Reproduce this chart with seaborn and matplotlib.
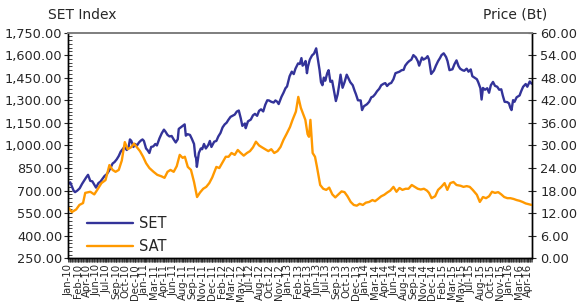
import numpy as np
import pandas as pd
import matplotlib
matplotlib.use("Agg")
import matplotlib.pyplot as plt
import seaborn as sns
from matplotlib.ticker import MultipleLocator, FuncFormatter

# SET index (left axis)
set_dates = [
    "2010-01-04", "2010-01-12", "2010-01-20", "2010-01-29", "2010-02-05", "2010-02-15", "2010-02-26",
    "2010-03-10", "2010-03-22", "2010-03-31", "2010-04-09", "2010-04-20", "2010-04-30", "2010-05-10",
    "2010-05-19", "2010-05-31", "2010-06-10", "2010-06-21", "2010-06-30", "2010-07-12", "2010-07-22",
    "2010-07-30", "2010-08-10", "2010-08-20", "2010-08-31", "2010-09-10", "2010-09-20", "2010-09-30",
    "2010-10-08", "2010-10-20", "2010-10-29", "2010-11-05", "2010-11-12", "2010-11-22", "2010-11-30",
    "2010-12-10", "2010-12-20", "2010-12-30",
    "2011-01-07", "2011-01-14", "2011-01-25", "2011-02-01", "2011-02-10", "2011-02-18", "2011-02-28",
    "2011-03-10", "2011-03-18", "2011-03-31", "2011-04-11", "2011-04-22", "2011-04-29", "2011-05-10",
    "2011-05-20", "2011-05-31", "2011-06-10", "2011-06-20", "2011-06-30", "2011-07-05", "2011-07-15",
    "2011-07-25", "2011-08-04", "2011-08-10", "2011-08-19", "2011-08-31", "2011-09-09", "2011-09-20",
    "2011-09-26", "2011-09-30", "2011-10-04", "2011-10-14", "2011-10-24", "2011-10-31", "2011-11-09",
    "2011-11-18", "2011-11-30", "2011-12-08", "2011-12-16", "2011-12-30",
    "2012-01-10", "2012-01-20", "2012-01-31", "2012-02-10", "2012-02-20", "2012-02-29", "2012-03-09",
    "2012-03-20", "2012-03-30", "2012-04-10", "2012-04-20", "2012-04-30", "2012-05-10", "2012-05-18",
    "2012-05-31", "2012-06-04", "2012-06-15", "2012-06-29", "2012-07-10", "2012-07-20", "2012-07-31",
    "2012-08-10", "2012-08-20", "2012-08-31", "2012-09-10", "2012-09-20", "2012-09-28", "2012-10-10",
    "2012-10-22", "2012-10-31", "2012-11-09", "2012-11-16", "2012-11-30", "2012-12-10", "2012-12-20",
    "2012-12-28",
    "2013-01-10", "2013-01-21", "2013-01-31", "2013-02-08", "2013-02-20", "2013-02-28", "2013-03-08",
    "2013-03-14", "2013-03-22", "2013-03-29", "2013-04-05", "2013-04-10", "2013-04-19", "2013-04-30",
    "2013-05-10", "2013-05-21", "2013-05-31", "2013-06-07", "2013-06-14", "2013-06-21", "2013-06-28",
    "2013-07-05", "2013-07-15", "2013-07-22", "2013-07-31", "2013-08-09", "2013-08-20", "2013-08-28",
    "2013-09-06", "2013-09-13", "2013-09-20", "2013-09-30", "2013-10-10", "2013-10-21", "2013-10-31",
    "2013-11-08", "2013-11-20", "2013-11-29", "2013-12-06", "2013-12-16", "2013-12-30",
    "2014-01-06", "2014-01-15", "2014-01-31", "2014-02-10", "2014-02-20", "2014-02-28", "2014-03-10",
    "2014-03-20", "2014-03-31", "2014-04-10", "2014-04-22", "2014-04-30", "2014-05-09", "2014-05-20",
    "2014-05-30", "2014-06-10", "2014-06-20", "2014-06-30", "2014-07-10", "2014-07-21", "2014-07-31",
    "2014-08-08", "2014-08-20", "2014-08-29", "2014-09-08", "2014-09-18", "2014-09-30", "2014-10-10",
    "2014-10-17", "2014-10-31", "2014-11-07", "2014-11-20", "2014-11-28", "2014-12-05", "2014-12-16",
    "2014-12-30",
    "2015-01-09", "2015-01-20", "2015-01-30", "2015-02-06", "2015-02-16", "2015-02-27", "2015-03-06",
    "2015-03-16", "2015-03-31", "2015-04-10", "2015-04-20", "2015-04-30", "2015-05-08", "2015-05-20",
    "2015-05-29", "2015-06-10", "2015-06-19", "2015-06-30", "2015-07-08", "2015-07-20", "2015-07-31",
    "2015-08-07", "2015-08-18", "2015-08-24", "2015-08-31", "2015-09-10", "2015-09-21", "2015-09-30",
    "2015-10-09", "2015-10-20", "2015-10-30", "2015-11-10", "2015-11-20", "2015-11-30", "2015-12-08",
    "2015-12-17", "2015-12-30",
    "2016-01-08", "2016-01-15", "2016-01-21", "2016-01-29", "2016-02-05", "2016-02-15", "2016-02-29",
    "2016-03-08", "2016-03-18", "2016-03-31", "2016-04-08", "2016-04-20", "2016-04-29",
]
set_values = [
    745, 755, 730, 700, 690, 700, 715,
    745, 770, 788, 805, 765, 762, 740,
    720, 750, 760, 780, 797, 810, 830,
    850, 880, 890, 908, 930, 960, 977,
    990, 970, 986, 1040, 1030, 990, 1010,
    1000, 1020, 1033,
    1040, 1030, 980, 970, 950, 990, 994,
    1010, 1000, 1047, 1080, 1105, 1093, 1070,
    1060, 1063, 1040, 1020, 1041, 1110, 1120,
    1130, 1140, 1065, 1075, 1070, 1045, 1010,
    930, 916, 858, 950, 980, 975, 1010,
    980, 1003, 1030, 990, 1025,
    1030, 1060, 1083, 1120, 1140, 1151, 1170,
    1190, 1197, 1205, 1225, 1232, 1180, 1130,
    1146, 1115, 1160, 1172, 1200, 1210, 1197,
    1230, 1240, 1226, 1270, 1300, 1299, 1290,
    1285, 1299, 1290, 1275, 1324, 1350, 1380,
    1392,
    1460, 1490, 1474, 1510, 1545, 1541, 1580,
    1530, 1540, 1561, 1480, 1525, 1570, 1598,
    1610, 1645, 1562, 1500, 1420, 1400, 1451,
    1430, 1480, 1500, 1423, 1430, 1350, 1295,
    1340, 1400, 1470, 1383, 1420, 1470, 1443,
    1420, 1400, 1364, 1340, 1300, 1299,
    1235, 1260, 1274, 1290, 1320, 1325, 1340,
    1360, 1376, 1400, 1410, 1414, 1395, 1410,
    1415, 1440, 1480, 1485, 1490, 1500, 1502,
    1530, 1550, 1561, 1570, 1600, 1585, 1560,
    1530, 1584, 1570, 1580, 1593, 1570, 1475,
    1498,
    1530, 1560, 1581, 1600, 1612, 1587, 1560,
    1500, 1506, 1540, 1565, 1527, 1510, 1500,
    1496, 1510, 1490, 1505, 1460, 1450, 1440,
    1420, 1380, 1305, 1382, 1370, 1380, 1350,
    1400, 1422, 1396, 1390, 1370, 1373, 1330,
    1290, 1288,
    1280, 1250, 1235, 1301, 1290, 1320, 1332,
    1360, 1390, 1408, 1390, 1425, 1410,
]

# SAT share price in baht (right axis)
sat_dates = [
    "2010-01-04", "2010-01-20", "2010-02-10", "2010-02-25", "2010-03-15", "2010-03-26", "2010-04-20",
    "2010-05-10", "2010-05-25", "2010-06-15", "2010-07-05", "2010-07-25", "2010-08-10", "2010-08-25",
    "2010-09-10", "2010-09-25", "2010-10-10", "2010-10-25", "2010-11-10", "2010-11-25", "2010-12-10",
    "2010-12-25",
    "2011-01-10", "2011-01-25", "2011-02-10", "2011-03-01", "2011-03-20", "2011-04-10", "2011-04-25",
    "2011-05-10", "2011-05-25", "2011-06-10", "2011-06-25", "2011-07-10", "2011-07-25", "2011-08-05",
    "2011-08-20", "2011-09-05", "2011-09-20", "2011-10-05", "2011-10-20", "2011-11-05", "2011-11-20",
    "2011-12-05", "2011-12-20",
    "2012-01-10", "2012-01-25", "2012-02-10", "2012-02-25", "2012-03-10", "2012-03-25", "2012-04-10",
    "2012-04-25", "2012-05-10", "2012-05-25", "2012-06-10", "2012-06-25", "2012-07-10", "2012-07-25",
    "2012-08-10", "2012-08-25", "2012-09-10", "2012-09-25", "2012-10-10", "2012-10-25", "2012-11-10",
    "2012-11-25", "2012-12-10", "2012-12-25",
    "2013-01-12", "2013-01-25", "2013-02-10", "2013-02-21", "2013-03-05", "2013-03-15", "2013-03-28",
    "2013-04-08", "2013-04-15", "2013-04-22", "2013-05-03", "2013-05-15", "2013-05-25", "2013-06-10",
    "2013-06-25", "2013-07-10", "2013-07-25", "2013-08-10", "2013-08-25", "2013-09-10", "2013-09-25",
    "2013-10-10", "2013-10-25", "2013-11-10", "2013-11-25", "2013-12-10", "2013-12-25",
    "2014-01-10", "2014-01-25", "2014-02-10", "2014-02-25", "2014-03-10", "2014-03-25", "2014-04-10",
    "2014-04-25", "2014-05-10", "2014-05-25", "2014-06-10", "2014-06-25", "2014-07-10", "2014-07-25",
    "2014-08-10", "2014-08-25", "2014-09-10", "2014-09-25", "2014-10-10", "2014-10-25", "2014-11-10",
    "2014-11-25", "2014-12-05", "2014-12-18",
    "2015-01-05", "2015-01-20", "2015-02-05", "2015-02-20", "2015-03-05", "2015-03-20", "2015-04-05",
    "2015-04-20", "2015-05-10", "2015-05-25", "2015-06-10", "2015-06-25", "2015-07-10", "2015-07-31",
    "2015-08-15", "2015-08-31", "2015-09-15", "2015-09-30", "2015-10-15", "2015-10-30", "2015-11-15",
    "2015-11-30", "2015-12-15", "2015-12-31",
    "2016-01-15", "2016-01-31", "2016-02-15", "2016-02-29", "2016-03-15", "2016-03-31", "2016-04-15",
    "2016-04-29",
]
sat_values = [
    13.4, 12.3, 13.0, 14.2, 14.7, 17.4, 17.7,
    17.0, 18.2, 20.0, 20.8, 24.8, 23.5, 23.0,
    23.5, 26.0, 30.9, 29.0, 29.5, 30.5, 29.5,
    28.5,
    27.0, 25.3, 24.0, 23.0, 22.2, 21.8, 21.4,
    23.0, 23.5, 23.0, 24.5, 27.5, 26.7, 27.0,
    24.3, 23.5, 20.3, 16.3, 17.5, 18.5, 19.0,
    20.0, 21.5,
    24.3, 24.0, 25.5, 27.0, 27.0, 28.0, 27.5,
    28.8, 28.0, 27.3, 28.0, 28.5, 29.5, 31.0,
    30.0, 29.5, 29.0, 28.5, 29.0, 28.0, 28.5,
    29.6, 31.5, 33.0,
    34.9, 36.8, 39.0, 42.9, 40.0, 38.6, 36.8,
    33.0, 32.3, 36.8, 28.0, 27.0, 24.3, 19.5,
    18.5, 18.2, 18.8, 17.0, 16.2, 17.0, 17.8,
    17.6, 16.5, 15.0, 14.2, 14.0, 14.5,
    14.2, 14.8, 15.0, 15.5, 15.2, 15.8, 16.5,
    16.9, 17.5, 18.0, 19.0, 17.7, 18.7, 18.2,
    18.5, 18.5, 19.5, 19.0, 18.5, 18.3, 18.5,
    18.0, 17.4, 16.0,
    16.5, 18.2, 19.0, 20.0, 18.2, 20.0, 20.3,
    19.5, 19.3, 19.0, 19.2, 19.0, 18.2, 16.9,
    15.0, 16.3, 16.0, 16.5, 17.7, 17.4, 17.6,
    17.0, 16.3, 16.0,
    16.0, 15.8, 15.5, 15.3, 15.0, 14.6, 14.4,
    14.2,
]

tick_labels = [
    "Jan-10", "Feb-10", "Apr-10", "Jun-10", "Jul-10", "Sep-10", "Oct-10", "Dec-10",
    "Jan-11", "Mar-11", "Apr-11", "Jun-11", "Aug-11", "Sep-11", "Nov-11", "Dec-11",
    "Feb-12", "Mar-12", "May-12", "Jul-12", "Aug-12", "Oct-12", "Nov-12",
    "Jan-13", "Feb-13", "Apr-13", "Jun-13", "Jul-13", "Sep-13", "Oct-13", "Dec-13",
    "Jan-14", "Mar-14", "Apr-14", "Jun-14", "Aug-14", "Sep-14", "Nov-14", "Dec-14",
    "Feb-15", "Mar-15", "May-15", "Jul-15", "Aug-15", "Oct-15", "Nov-15",
    "Jan-16", "Mar-16", "Apr-16",
]


def to_month(dates):
    # months since 1 Jan 2010, fractional
    d = pd.to_datetime(dates)
    return (d.year - 2010) * 12 + d.month - 1 + (d.day - 1) / d.days_in_month


set_df = pd.DataFrame({"m": to_month(set_dates), "SET": set_values})
sat_df = pd.DataFrame({"m": to_month(sat_dates), "SAT": sat_values})

sns.set_style("ticks")
plt.rcParams["font.family"] = ["DejaVu Sans"]

fig, ax = plt.subplots(figsize=(5.77, 3.04), dpi=100)
fig.subplots_adjust(left=0.118, right=0.922, top=0.893, bottom=0.150)

sns.lineplot(data=set_df, x="m", y="SET", ax=ax, color="#333399", lw=1.7, legend=False)
ax2 = ax.twinx()
sns.lineplot(data=sat_df, x="m", y="SAT", ax=ax2, color="#FF9900", lw=1.7, legend=False)

ax.set_xlim(0, 76)
ax.set_ylim(250, 1750)
ax2.set_ylim(0, 60)
ax.set_xlabel(""); ax.set_ylabel(""); ax2.set_ylabel("")

ax.set_yticks(np.arange(250, 1751, 150))
ax.yaxis.set_minor_locator(MultipleLocator(25))
ax.yaxis.set_major_formatter(FuncFormatter(lambda v, p: f"{v:,.2f}"))
ax2.set_yticks(np.arange(0, 61, 6))
ax2.yaxis.set_major_formatter(FuncFormatter(lambda v, p: f"{v:.2f}"))

ax.set_xticks(np.arange(len(tick_labels)) * 1.571)
ax.set_xticklabels(tick_labels)
ax.xaxis.set_minor_locator(MultipleLocator(0.12))

ax.tick_params(axis="y", which="major", direction="inout", length=6, width=0.8, labelsize=9.3, pad=1)
ax.tick_params(axis="y", which="minor", direction="in", length=3, width=0.6, left=True)
ax2.tick_params(axis="y", which="major", direction="inout", length=6, width=0.8, labelsize=9.3, pad=3)
ax.tick_params(axis="x", which="major", direction="out", length=3, width=0.6, labelsize=7.3, pad=1,
               labelrotation=90)
ax.tick_params(axis="x", which="minor", direction="out", length=3, width=0.5, bottom=True)

for a in (ax, ax2):
    for s in ("left", "right", "bottom"):
        a.spines[s].set_color("black")
        a.spines[s].set_linewidth(1.0)
    a.spines["top"].set_color("#808080")
    a.spines["top"].set_linewidth(1.3)

fig.text(48 / 577, 1 - 15 / 304, "SET Index", ha="left", va="center", fontsize=10)
fig.text(547 / 577, 1 - 15 / 304, "Price (Bt)", ha="right", va="center", fontsize=10)

handles = [ax.get_lines()[0], ax2.get_lines()[0]]
ax2.legend(handles, ["SET", "SAT"], loc="lower left", bbox_to_anchor=(0.04, 0.02), frameon=False,
           fontsize=10.5, handlelength=3.2, handletextpad=0.4, labelspacing=0.55,
           borderaxespad=0, borderpad=0)

plt.savefig("out.png", dpi=100)
plt.close()
